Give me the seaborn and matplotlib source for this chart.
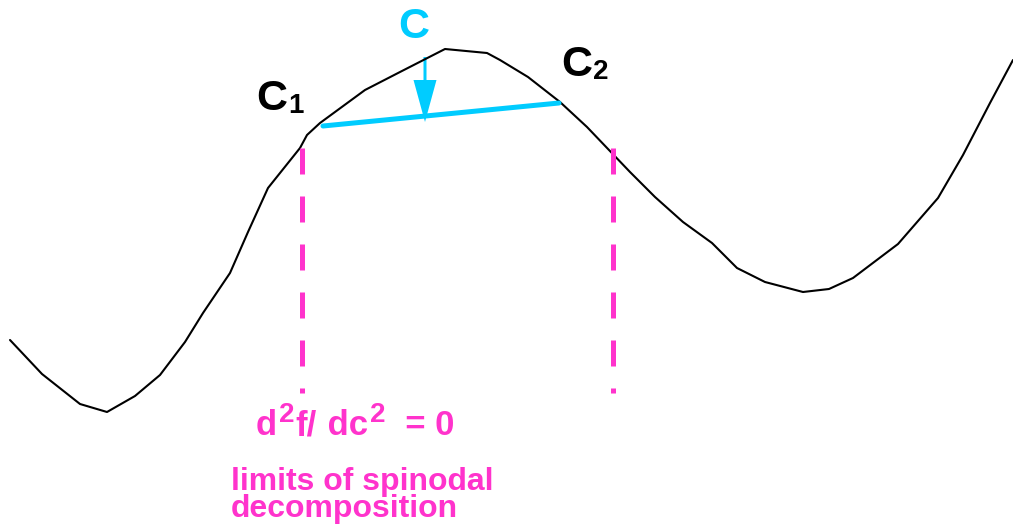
import matplotlib
matplotlib.use("Agg")
import matplotlib.pyplot as plt
import seaborn as sns
import numpy as np

# ---- data (drawing coordinates, y grows downward) ----
curve_x = [10, 42, 80, 107, 135, 160, 185, 203, 230, 248, 268, 300, 307, 320,
           365, 400, 445, 487, 500, 528, 560, 587, 630, 655, 683, 712, 737,
           765, 803, 829, 853, 898, 938, 963, 990, 1013]
curve_y = [340, 374, 404, 412, 396, 375, 342, 313, 273, 232, 188, 148, 135, 123,
           90, 72, 49, 53, 60, 77, 102, 127, 172, 197, 222, 243, 268,
           282, 292, 289, 278, 244, 198, 155, 103, 60]
chord_x = [323, 559]
chord_y = [126, 103]
spinodal_x = [302, 613]
spinodal_y = [148, 393]
arrow_x = 425
arrow_y = [57, 122]

formula_parts = [("d", False), ("2", True), ("f/", False), (" dc", False),
                 ("2", True), ("  = 0", False)]

CYAN = "#00CCFF"
MAGENTA = "#FF33CC"

sns.set_theme(style="white")
plt.rcParams["font.family"] = ["Liberation Sans", "DejaVu Sans"]

fig = plt.figure(figsize=(10.13, 5.26), dpi=100)
ax = fig.add_axes([0, 0, 1, 1])
ax.set_xlim(0, 1013)
ax.set_ylim(526, 0)
ax.axis("off")

# free-energy curve
sns.lineplot(x=curve_x, y=curve_y, sort=False, estimator=None, color="black",
             lw=1.5, ax=ax)

# spinodal limits (dashed magenta)
lw_d = 3.6
for sx in spinodal_x:
    ax.plot([sx, sx], spinodal_y, color=MAGENTA, lw=lw_d,
            linestyle=(0, (26 / 5, 22 / 5)), dash_capstyle="butt")

# common tangent chord
sns.lineplot(x=chord_x, y=chord_y, sort=False, estimator=None, color=CYAN,
             lw=3.6, ax=ax)

# arrow down from C
ax.arrow(arrow_x, arrow_y[0], 0, arrow_y[1] - arrow_y[0], width=3,
         head_width=23, head_length=42, length_includes_head=True,
         color=CYAN, lw=0)

# labels
big = 31
sub = 20
ax.text(398, 38, "C", color=CYAN, fontsize=big, fontweight="bold",
        ha="left", va="baseline")
c1 = ax.text(256, 110, "C", color="black", fontsize=big, fontweight="bold",
             ha="left", va="baseline")
ax.annotate("1", xy=(1, 113), xycoords=(c1, "data"), xytext=(1, 0),
            textcoords="offset points", color="black", fontsize=sub,
            fontweight="bold", ha="left", va="baseline")
c2 = ax.text(561, 76, "C", color="black", fontsize=big, fontweight="bold",
             ha="left", va="baseline")
ax.annotate("2", xy=(1, 79), xycoords=(c2, "data"), xytext=(1, 0),
            textcoords="offset points", color="black", fontsize=sub,
            fontweight="bold", ha="left", va="baseline")

# formula built piece by piece
base_y = 435
prev = ax.text(256, base_y, formula_parts[0][0], color=MAGENTA, fontsize=25,
               fontweight="bold", ha="left", va="baseline")
for txt, is_sup in formula_parts[1:]:
    yy = base_y - 13 if is_sup else base_y
    fs = 20 if is_sup else 25
    prev = ax.annotate(txt, xy=(1, yy), xycoords=(prev, "data"), xytext=(1, 0),
                       textcoords="offset points", color=MAGENTA, fontsize=fs,
                       fontweight="bold", ha="left", va="baseline")

ax.text(231, 490, "limits of spinodal", color=MAGENTA, fontsize=23,
        fontweight="bold", ha="left", va="baseline")
ax.text(231, 517, "decomposition", color=MAGENTA, fontsize=23,
        fontweight="bold", ha="left", va="baseline")

fig.savefig("out.png", dpi=100, facecolor="white")
